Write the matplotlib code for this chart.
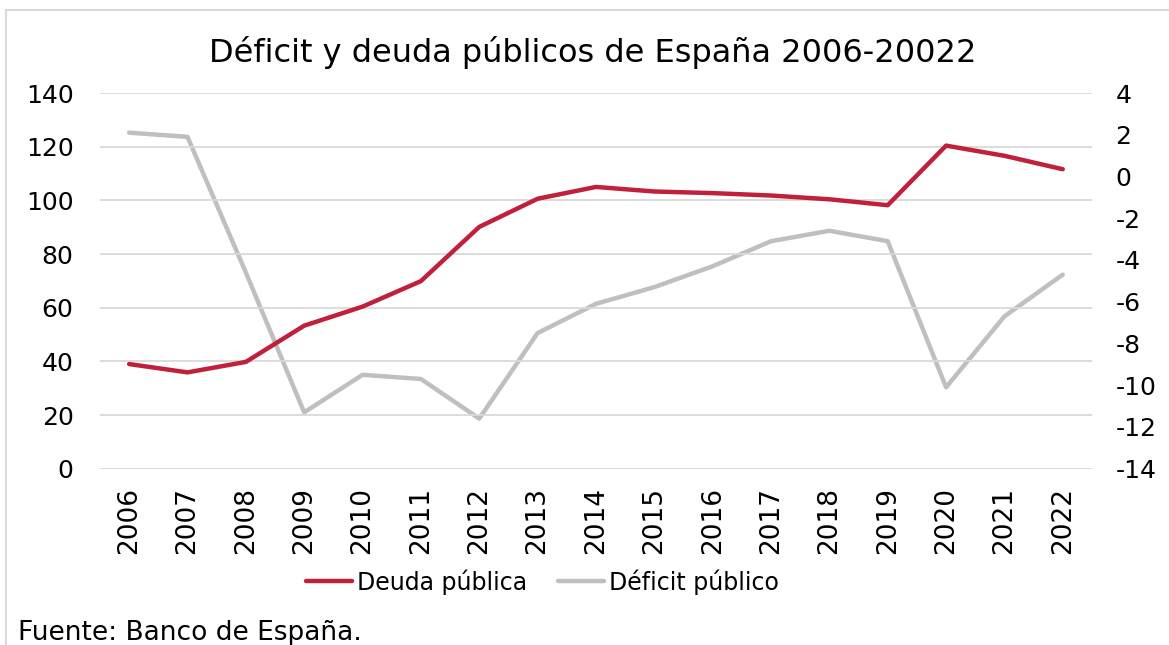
import matplotlib.pyplot as plt
from matplotlib.patches import Rectangle
import numpy as np

plt.rcParams["font.family"] = ["DejaVu Sans"]
plt.rcParams["axes.unicode_minus"] = False

years = ["2006", "2007", "2008", "2009", "2010", "2011", "2012", "2013", "2014",
         "2015", "2016", "2017", "2018", "2019", "2020", "2021", "2022"]
deuda = [39.0, 35.9, 39.8, 53.3, 60.4, 69.9, 90.1, 100.6, 105.0,
         103.3, 102.7, 101.8, 100.4, 98.2, 120.4, 116.6, 111.6]
deficit = [2.1, 1.9, -4.6, -11.3, -9.5, -9.7, -11.6, -7.5, -6.1,
           -5.3, -4.3, -3.1, -2.6, -3.1, -10.1, -6.7, -4.7]

RED = "#c0203a"
GREY = "#bfbfbf"
GRID = "#d9d9d9"

fig = plt.figure(figsize=(11.69, 6.45), dpi=100)
ax = fig.add_axes([0.0855, 0.2733, 0.8486, 0.5825])
ax2 = ax.twinx()

x = np.arange(len(years))
l1, = ax.plot(x, deuda, color=RED, lw=3.2, solid_capstyle="round",
              solid_joinstyle="round", zorder=3, label="Deuda pública")
l2, = ax2.plot(x, deficit, color=GREY, lw=3.2, solid_capstyle="round",
               solid_joinstyle="round", zorder=2, label="Déficit público")
ax.set_zorder(ax2.get_zorder() + 1)
ax.patch.set_visible(False)

ax.set_xlim(-0.5, len(years) - 0.5)
ax.set_ylim(0, 140)
ax.set_yticks(np.arange(0, 141, 20))
ax2.set_ylim(-14, 4)
ax2.set_yticks(np.arange(-14, 5, 2))

ax.set_xticks(x)
ax.set_xticklabels(years, rotation=90, fontsize=19)
ax.tick_params(axis="x", length=0, pad=13)
ax.tick_params(axis="y", length=0, pad=19, labelsize=18)
ax2.tick_params(axis="y", length=0, pad=17, labelsize=18)

ax.yaxis.grid(True, color=GRID, lw=1.3)
ax.set_axisbelow(True)
for a in (ax, ax2):
    for s in a.spines.values():
        s.set_visible(False)

fig.text(0.507, 0.904, "Déficit y deuda públicos de España 2006-20022",
         ha="center", va="baseline", fontsize=23)

fig.legend(handles=[l1, l2], loc="center", bbox_to_anchor=(0.464, 0.098),
           ncol=2, frameon=False, fontsize=17, handlelength=1.95,
           handletextpad=0.2, columnspacing=1.3)

fig.text(0.015, 0.008, "Fuente: Banco de España.", ha="left", va="baseline",
         fontsize=19)

fig.patches.append(Rectangle((6 / 1169, -0.05), 1.1, 1 - 10 / 645 + 0.05,
                             transform=fig.transFigure, fill=False,
                             edgecolor="#d9d9d9", lw=1.5))

fig.savefig("out.png", dpi=100)
